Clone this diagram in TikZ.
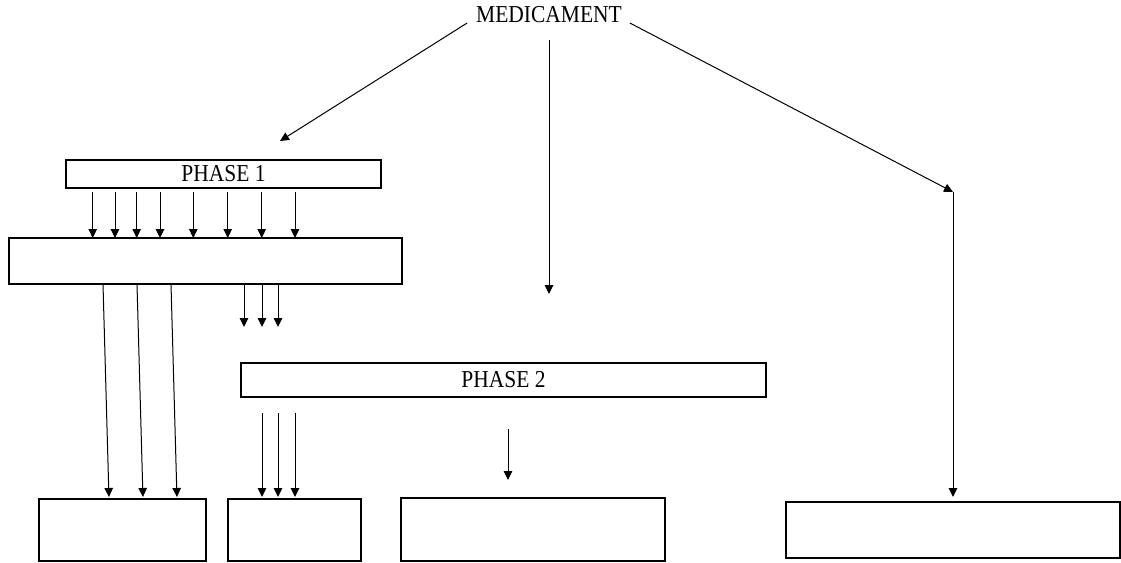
\documentclass[tikz,border=0pt]{standalone}
\usepackage{fontspec}
\setmainfont{Liberation Serif}
\usetikzlibrary{arrows.meta}
\newcommand{\tallt}[1]{\scalebox{1}[1.13]{#1}}
\tikzset{
  boxnode/.style={draw, line width=1.7pt, inner sep=0pt, outer sep=0pt, fill=white},
  phasebox/.style={draw, line width=1.3pt, inner sep=0pt, outer sep=0pt,
    font=\fontsize{21.5}{25}\selectfont},
  tip/.style={-{Triangle[length=9pt,width=8.5pt]}},
  conn/.style={line width=1pt, tip},
  plain/.style={line width=1pt}
}
\begin{document}
\begin{tikzpicture}[x=1pt,y=-1pt]
\useasboundingbox (0,0) rectangle (1121,562);
% nodes
\node[inner sep=0pt, outer sep=0pt, anchor=base, font=\fontsize{21.5}{25}\selectfont] (med) at (549,23) {\tallt{MEDICAMENT}};
\node[phasebox, minimum width=315pt, minimum height=28pt] (p1) at (223.5,174) {\tallt{PHASE 1}};
\node[boxnode, minimum width=393pt, minimum height=46pt] (bb) at (205.5,261) {};
\node[phasebox, minimum width=525pt, minimum height=34pt] (p2) at (503.5,380) {\tallt{PHASE 2}};
\node[boxnode, minimum width=167pt, minimum height=62pt] (ba) at (122.5,530) {};
\node[boxnode, minimum width=133pt, minimum height=62pt] (bbx) at (294.5,530) {};
\node[boxnode, minimum width=264pt, minimum height=63pt] (bc) at (533,529.5) {};
\node[boxnode, minimum width=334pt, minimum height=56pt] (bd) at (953,530) {};
\coordinate (turn) at (953,192);
\coordinate (midend) at (549,294);
\coordinate (leftend) at (280,141);
% connectors from MEDICAMENT
\draw[conn] ([xshift=-9pt]med.base west) -- (leftend);
\draw[conn, shorten <=17pt] (med.south) -- (midend);
\draw[conn] ([xshift=8pt]med.base east) -- (turn);
\draw[conn, shorten >=5pt] (turn) -- (bd.north);
% PHASE 1 -> big box
\foreach \s in {26.7,49,70.7,94,127.3,161.7,195.7,229}{
  \pgfmathsetmacro{\t}{\s+57}
  \draw[conn, shorten <=4pt] ([xshift=\s pt]p1.south west) -- ([xshift=\t pt]bb.north west);
}
% big box -> box A
\draw[conn, shorten >=2pt] ([xshift=94pt]bb.south west) -- ([xshift=70pt]ba.north west);
\draw[conn, shorten >=2pt] ([xshift=128pt]bb.south west) -- ([xshift=104pt]ba.north west);
\draw[conn, shorten >=2pt] ([xshift=162pt]bb.south west) -- ([xshift=138pt]ba.north west);
% big box -> PHASE 2
\draw[conn, shorten >=36pt] ([xshift=235pt]bb.south west) -- ([xshift=3pt]p2.north west);
\draw[conn, shorten >=36pt] ([xshift=253pt]bb.south west) -- ([xshift=21pt]p2.north west);
\draw[conn, shorten >=36pt] ([xshift=269pt]bb.south west) -- ([xshift=37pt]p2.north west);
% PHASE 2 -> box B
\draw[conn, shorten <=16pt, shorten >=2pt] ([xshift=21pt]p2.south west) -- ([xshift=34pt]bbx.north west);
\draw[conn, shorten <=16pt, shorten >=2pt] ([xshift=37pt]p2.south west) -- ([xshift=50pt]bbx.north west);
\draw[conn, shorten <=16pt, shorten >=2pt] ([xshift=54pt]p2.south west) -- ([xshift=67pt]bbx.north west);
% PHASE 2 -> box C
\draw[conn, shorten <=32pt, shorten >=18pt] ([xshift=267pt]p2.south west) -- ([xshift=107pt]bc.north west);
\end{tikzpicture}
\end{document}
